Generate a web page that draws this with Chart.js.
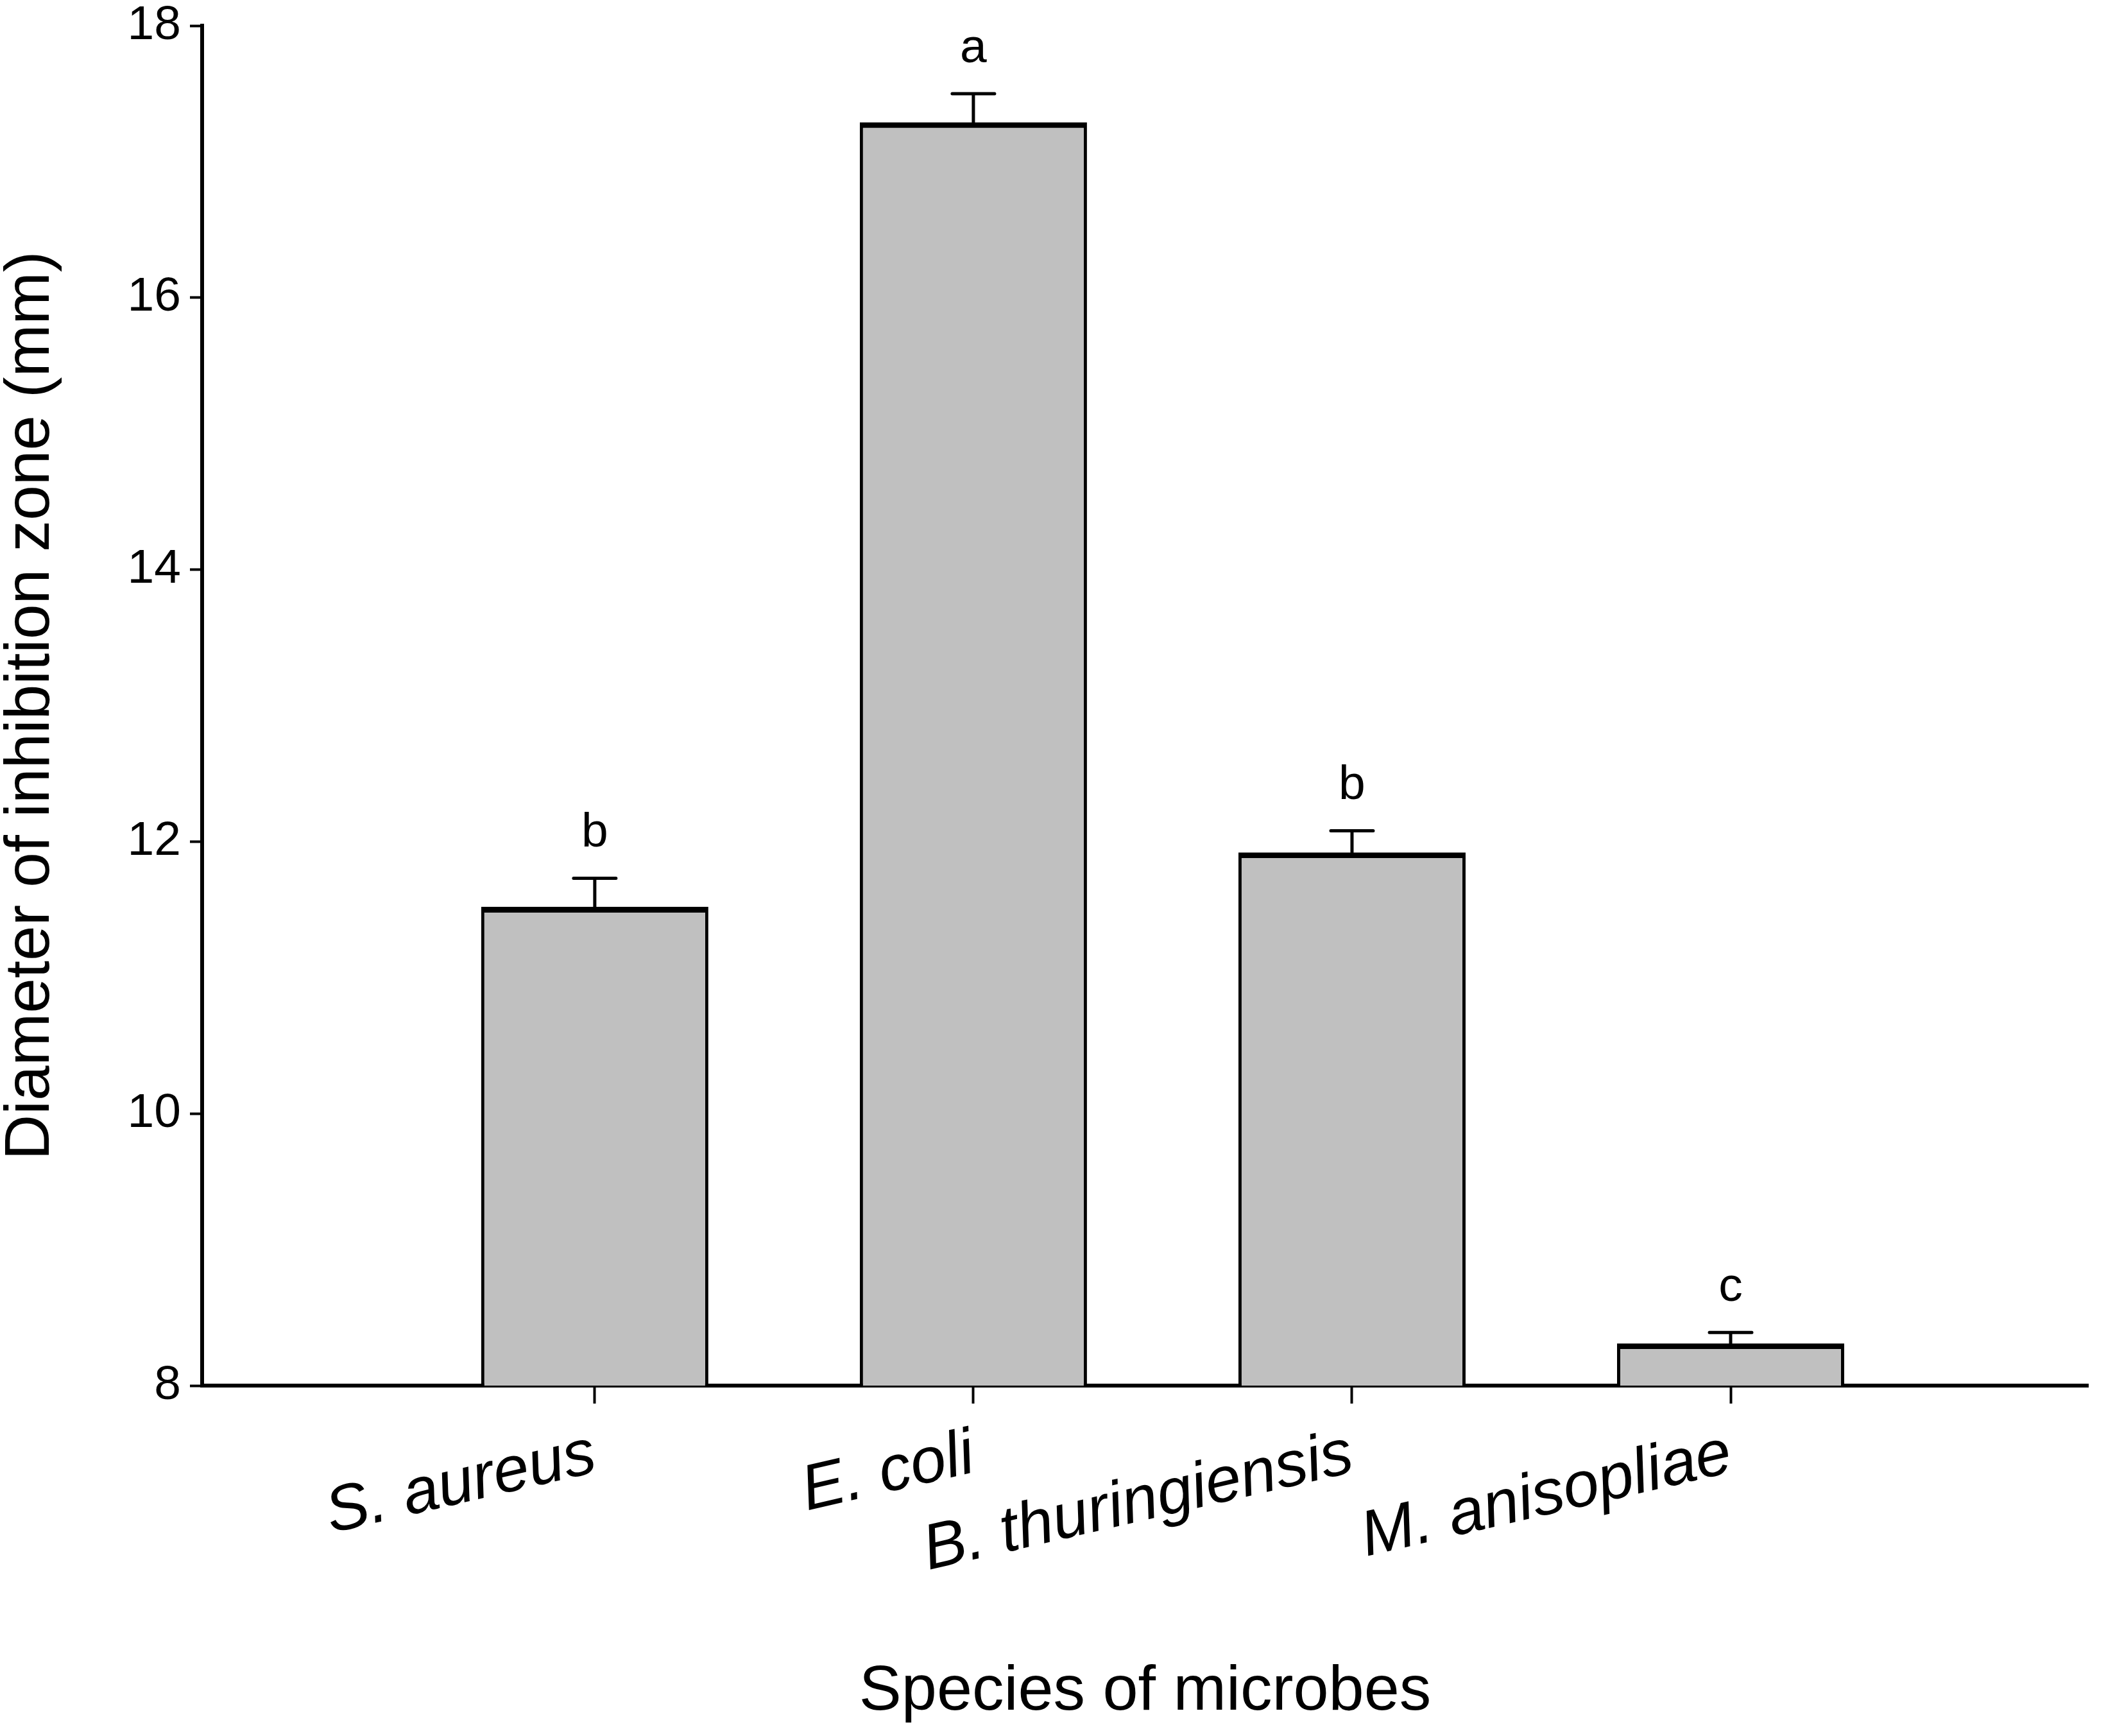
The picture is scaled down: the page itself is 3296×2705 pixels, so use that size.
<!DOCTYPE html>
<html>
<head>
<meta charset="utf-8">
<script src="https://cdn.jsdelivr.net/npm/chart.js@4"></script>
<style>
  html, body { margin: 0; padding: 0; background: #fff; }
  #wrap { width: 3296px; height: 2705px; }
</style>
</head>
<body>
<div id="wrap"><canvas id="chart" width="3296" height="2705"></canvas></div>
<script>
// Data
const species = ['S. aureus', 'E. coli', 'B. thuringiensis', 'M. anisopliae'];
const meanDiameter = [11.52, 17.29, 11.92, 8.31];
const errDiameter = [0.21, 0.21, 0.16, 0.08];
const groupLetters = ['b', 'a', 'b', 'c'];
const yTicks = [8, 10, 12, 14, 16, 18];

const FONT = 'Liberation Sans, Arial, sans-serif';

// error bars + significance letters
const errorBars = {
    id: 'errorBars',
    afterDatasetsDraw: (chart) => {
        const ctx = chart.ctx;
        const xs = chart.scales.x;
        const ys = chart.scales.y;
        ctx.save();
        ctx.strokeStyle = '#000';
        ctx.lineWidth = 5;
        ctx.lineCap = 'round';
        meanDiameter.forEach((m, i) => {
            const x = xs.getPixelForValue(i + 1);
            const yMean = ys.getPixelForValue(m);
            const yTop = ys.getPixelForValue(m + errDiameter[i]);
            ctx.beginPath();
            ctx.moveTo(x, yMean);
            ctx.lineTo(x, yTop);
            ctx.moveTo(x - 33, yTop);
            ctx.lineTo(x + 33, yTop);
            ctx.stroke();

            ctx.fillStyle = '#000';
            ctx.font = '75px ' + FONT;
            ctx.textAlign = 'center';
            ctx.textBaseline = 'middle';
            ctx.fillText(groupLetters[i], x, yTop - 70);
        });
        ctx.restore();
    }
};

new Chart(document.getElementById('chart'), {
    type: 'bar',
    data: {
        datasets: [{
            data: meanDiameter.map((v, i) => ({ x: i + 1, y: v })),
            backgroundColor: '#c0c0c0',
            borderColor: '#000',
            borderWidth: { top: 9, left: 5, right: 5, bottom: 9 },
            borderSkipped: false,
            barPercentage: 0.6,
            categoryPercentage: 1.0
        }]
    },
    options: {
        responsive: false,
        devicePixelRatio: 1,
        animation: false,
        layout: { padding: { top: 40, right: 42, bottom: 19, left: 0 } },
        plugins: { legend: { display: false }, tooltip: { enabled: false } },
        scales: {
            x: {
                type: 'linear',
                offset: false,
                min: -0.037,
                max: 4.944,
                afterBuildTicks: (s) => { s.ticks = species.map((_, i) => ({ value: i + 1 })); },
                afterFit: (s) => {
                    s.height = 527;
                    s.paddingLeft = 0;
                    s.paddingRight = 0;
                },
                border: { display: true, color: '#000', width: 6 },
                grid: { offset: false, drawOnChartArea: false, drawTicks: true, tickLength: 28, tickWidth: 4, tickColor: '#000' },
                ticks: {
                    autoSkip: false,
                    minRotation: 13,
                    maxRotation: 13,
                    padding: 20,
                    color: '#000',
                    font: { family: FONT, size: 100, style: 'italic' },
                    callback: (v) => species[v - 1]
                },
                title: {
                    display: true,
                    text: 'Species of microbes',
                    color: '#000',
                    font: { family: FONT, size: 99, lineHeight: 1.0 },
                    padding: { top: 0, bottom: 0 }
                }
            },
            y: {
                min: 8,
                max: 18,
                afterBuildTicks: (s) => { s.ticks = yTicks.map(v => ({ value: v })); },
                afterFit: (s) => {
                    s.width = 315;
                    s.paddingTop = 0;
                    s.paddingBottom = 0;
                },
                border: { display: true, color: '#000', width: 6 },
                grid: { drawOnChartArea: false, drawTicks: true, tickLength: 19, tickWidth: 4, tickColor: '#000' },
                ticks: {
                    padding: 14,
                    color: '#000',
                    font: { family: FONT, size: 75 }
                },
                title: {
                    display: true,
                    text: 'Diameter of inhibition zone (mm)',
                    color: '#000',
                    font: { family: FONT, size: 98, lineHeight: 1.0 },
                    padding: { top: 0, bottom: 0 }
                }
            }
        }
    },
    plugins: [errorBars]
});
</script>
</body>
</html>
